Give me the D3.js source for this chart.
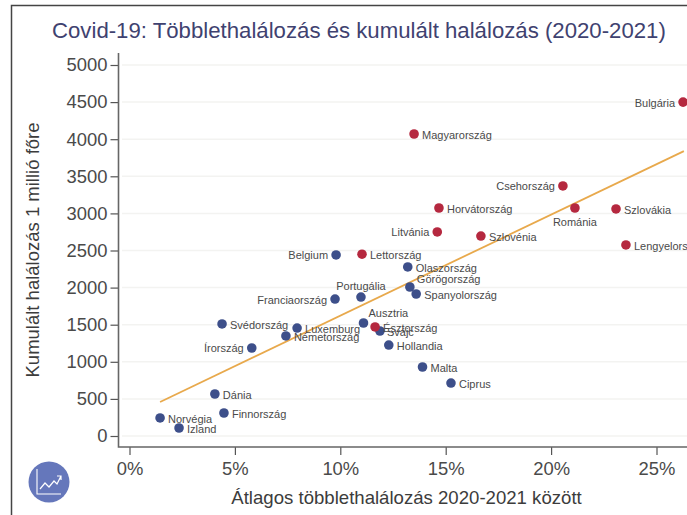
<!DOCTYPE html>
<html>
<head>
<meta charset="utf-8">
<script src="https://cdn.jsdelivr.net/npm/d3@7"></script>
<style>
  html, body { margin: 0; padding: 0; background: #fff; }
  svg { display: block; font-family: "Liberation Sans", Arial, sans-serif; }
</style>
</head>
<body>
<svg width="687" height="515"></svg>
<script>
// chart data
var countries = ['Bulgária', 'Magyarország', 'Csehország', 'Horvátország', 'Románia', 'Szlovákia', 'Litvánia', 'Szlovénia', 'Lengyelország', 'Lettország', 'Észtország',
  'Belgium', 'Olaszország', 'Görögország', 'Spanyolország', 'Portugália', 'Franciaország', 'Ausztria', 'Svájc', 'Luxemburg', 'Németország', 'Svédország', 'Írország', 'Hollandia', 'Malta', 'Ciprus', 'Dánia', 'Finnország', 'Norvégia', 'Izland'];
var excess = [26.26, 13.5, 20.56, 14.68, 21.13, 23.08, 14.6, 16.67, 23.55, 11.03, 11.65,
  9.8, 13.2, 13.3, 13.6, 10.98, 9.75, 11.1, 11.88, 7.95, 7.42, 4.39, 5.8, 12.3, 13.9, 15.25, 4.05, 4.48, 1.45, 2.35];
var deaths = [4500, 4070, 3370, 3073, 3073, 3060, 2750, 2695, 2575, 2450, 1470,
  2440, 2278, 2008, 1914, 1873, 1846, 1523, 1415, 1455, 1348, 1510, 1186, 1226, 930, 714, 566, 310, 243, 108];
// first 11 are the red (eastern) group
var redCount = 11;
var trendX = [1.45, 26.3];
var trendY = [458, 3840];
var xTicks = [0, 5, 10, 15, 20, 25];
var yTicks = [0, 500, 1000, 1500, 2000, 2500, 3000, 3500, 4000, 4500, 5000];

var svg = d3.select('svg');

var x = d3.scaleLinear().domain([0, 25]).range([129.5, 656.5]);
var y = d3.scaleLinear().domain([0, 5000]).range([436, 65]);

// frame around the picture
svg.append('path')
  .attr('d', 'M11.5,515V5.5H687')
  .attr('fill', 'none')
  .attr('stroke', '#444')
  .attr('stroke-width', 1.5);

svg.append('text')
  .attr('x', 52)
  .attr('y', 38)
  .attr('font-size', 22.2)
  .attr('fill', '#3f4270')
  .text('Covid-19: Többlethalálozás és kumulált halálozás (2020-2021)');

// light grid
svg.append('g')
  .selectAll('line')
  .data(yTicks)
  .enter()
  .append('line')
  .attr('x1', 122)
  .attr('x2', 687)
  .attr('y1', d => y(d))
  .attr('y2', d => y(d))
  .attr('stroke', '#f3f3f1')
  .attr('stroke-width', 1.5);

// axes
var yAxis = svg.append('g')
  .attr('transform', 'translate(118.5,0)')
  .call(d3.axisLeft(y).tickValues(yTicks).tickFormat(d3.format('d')).tickSize(8).tickPadding(3));
var xAxis = svg.append('g')
  .attr('transform', 'translate(0,447)')
  .call(d3.axisBottom(x).tickValues(xTicks).tickFormat(d => d + '%').tickSize(8).tickPadding(7));

[yAxis, xAxis].forEach(ax => {
  ax.select('.domain').remove();
  ax.selectAll('line').attr('stroke', '#555').attr('stroke-width', 1.2);
  ax.selectAll('text').attr('font-size', 18.4).attr('fill', '#4a4a4a').attr('font-family', '"Liberation Sans", Arial, sans-serif');
});

svg.append('path')
  .attr('d', 'M118.5,53V447H687')
  .attr('fill', 'none')
  .attr('stroke', '#666')
  .attr('stroke-width', 1.6);

svg.append('text')
  .attr('transform', 'translate(39,250) rotate(-90)')
  .attr('text-anchor', 'middle')
  .attr('font-size', 18.5)
  .attr('fill', '#3c3c3c')
  .text('Kumulált halálozás 1 millió főre');

svg.append('text')
  .attr('x', 406.5)
  .attr('y', 504)
  .attr('text-anchor', 'middle')
  .attr('font-size', 18.6)
  .attr('fill', '#3c3c3c')
  .text('Átlagos többlethalálozás 2020-2021 között');

// trend line
svg.append('line')
  .attr('x1', x(trendX[0]))
  .attr('y1', y(trendY[0]))
  .attr('x2', x(trendX[1]))
  .attr('y2', y(trendY[1]))
  .attr('stroke', '#e8a94c')
  .attr('stroke-width', 1.8);

// label placement relative to the dot: [dx, dy, anchor]
var placement = {
  'Bulgária': [-8, 1, 'end'], 'Csehország': [-8, 0, 'end'], 'Litvánia': [-8, 0, 'end'], 'Belgium': [-8, 0, 'end'],
  'Franciaország': [-8, 1, 'end'], 'Írország': [-8, 0, 'end'],
  'Románia': [0, 14, 'middle'], 'Portugália': [0, -11, 'middle'],
  'Görögország': [7, -8, 'start'], 'Ausztria': [5, -10, 'start'],
  'Észtország': [8, 1, 'start'], 'Svájc': [7, 1, 'start']
};

var points = countries.map((c, i) => ({ name: c, xv: excess[i], yv: deaths[i], red: i < redCount }));

svg.append('g')
  .selectAll('circle')
  .data(points.slice().reverse())
  .enter()
  .append('circle')
  .attr('cx', d => x(d.xv))
  .attr('cy', d => y(d.yv))
  .attr('r', 4.8)
  .attr('fill', d => d.red ? '#b5283f' : '#3d4f8a');

svg.append('g')
  .selectAll('text')
  .data(points)
  .enter()
  .append('text')
  .attr('x', d => x(d.xv) + (placement[d.name] ? placement[d.name][0] : 8))
  .attr('y', d => y(d.yv) + (placement[d.name] ? placement[d.name][1] : 1))
  .attr('dy', '.35em')
  .attr('text-anchor', d => placement[d.name] ? placement[d.name][2] : 'start')
  .attr('font-size', 11)
  .attr('fill', '#4a4a4a')
  .text(d => d.name);

// round logo, bottom left
var logo = svg.append('g').attr('transform', 'translate(49,482)');
logo.append('circle').attr('r', 20.5).attr('fill', '#6577bb');
logo.append('path')
  .attr('d', 'M-12,-13V12H12')
  .attr('fill', 'none')
  .attr('stroke', '#fff')
  .attr('stroke-width', 1.1);
logo.append('path')
  .attr('d', 'M-9,7L-4,1L0,5L5,-1L8,2L12,-6M8,-6H12V-2')
  .attr('fill', 'none')
  .attr('stroke', '#fff')
  .attr('stroke-width', 1.2);
</script>
</body>
</html>
